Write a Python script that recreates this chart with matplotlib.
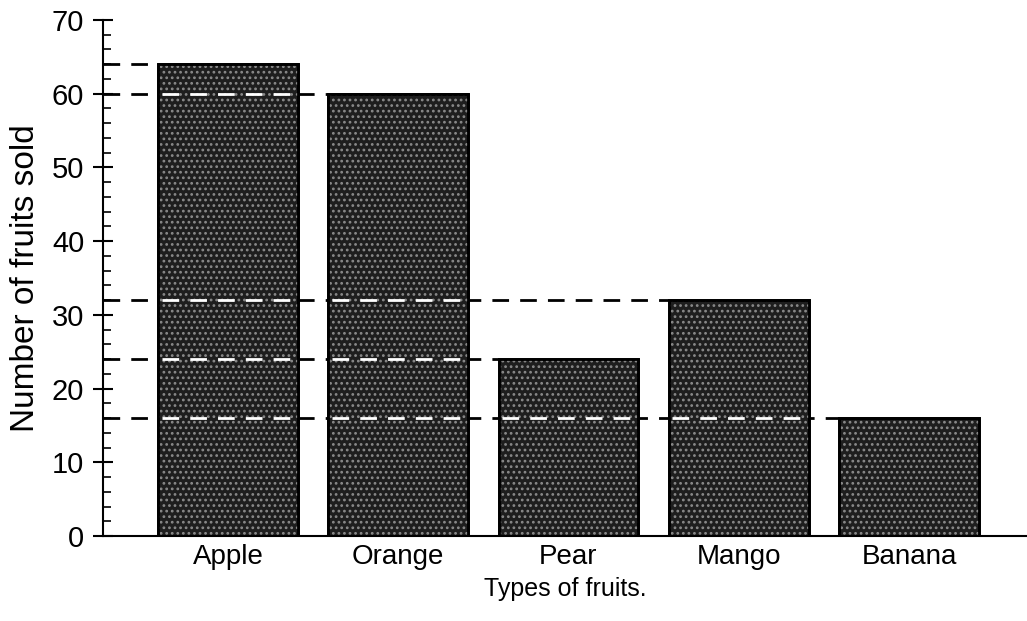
import matplotlib.pyplot as plt
import numpy as np

# data
fruits = ['Apple', 'Orange', 'Pear', 'Mango', 'Banana']
sold = [64, 60, 24, 32, 16]

plt.rcParams['font.family'] = ['Liberation Sans', 'DejaVu Sans']
plt.rcParams['hatch.linewidth'] = 1.2

fig = plt.figure(figsize=(10.27, 6.21), dpi=100)
ax = fig.add_axes([0.1003, 0.1369, 0.8997, 0.8309])

x = np.arange(len(fruits))
width = 0.82
x_left = -0.734

# dark stippled bars
ax.bar(x, sold, width=width, color='#1e1e1e', edgecolor='black',
       linewidth=2, zorder=2)
ax.bar(x, sold, width=width, color='none', edgecolor='#8a8a8a',
       linewidth=0, hatch='...', zorder=3)
ax.bar(x, sold, width=width, color='none', edgecolor='black',
       linewidth=2, zorder=4)

# dashed guide lines from the axis to each bar
dash = (0, (6, 4))
for i, v in enumerate(sold):
    left_edge = x[i] - width / 2
    ax.plot([x_left, left_edge], [v, v], color='black', lw=2,
            linestyle=dash, zorder=1)
    for j in range(i):
        if sold[j] > v:
            ax.plot([x[j] - width / 2 + 0.02, x[j] + width / 2 - 0.02], [v, v],
                    color='white', lw=2, linestyle=dash, zorder=5)

ax.set_xlim(x_left, 4.693)
ax.set_ylim(0, 70)

ax.spines['top'].set_visible(False)
ax.spines['right'].set_visible(False)
ax.spines['left'].set_linewidth(1.5)
ax.spines['bottom'].set_linewidth(1.5)

ax.set_yticks(np.arange(0, 71, 10))
ax.set_yticks(np.arange(0, 71, 2), minor=True)
ax.tick_params(axis='y', which='major', direction='inout', length=15,
               width=1.5, labelsize=21, pad=6)
ax.tick_params(axis='y', which='minor', direction='in', length=6, width=1.2)

ax.set_xticks(x)
ax.set_xticklabels(fruits)
ax.tick_params(axis='x', length=0, labelsize=20, pad=6)

ax.set_xlabel('Types of fruits.', fontsize=18, labelpad=5)
ax.set_ylabel('Number of fruits sold', fontsize=24, labelpad=8)

fig.savefig('out.png', dpi=100)
